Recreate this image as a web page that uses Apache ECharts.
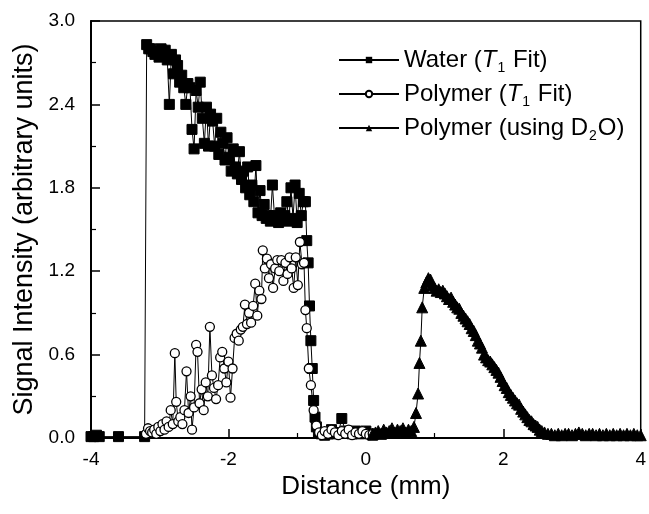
<!DOCTYPE html>
<html>
<head>
<meta charset="utf-8">
<script src="https://cdn.jsdelivr.net/npm/echarts@6/dist/echarts.min.js"></script>
<style>html,body{margin:0;padding:0;background:#fff}#c{width:649px;height:514px}</style>
</head>
<body>
<div id="c"></div>
<script>
// ---- data ----
var waterX = [-4.00,-3.96,-3.92,-3.88,-3.60,-3.22,
 -3.19,-3.16,-3.13,-3.10,-3.07,-3.04,-3.01,-2.98,-2.95,-2.92,-2.89,-2.86,-2.83,-2.80,-2.77,-2.74,-2.71,-2.68,-2.65,-2.62,
 -2.59,-2.56,-2.53,-2.50,-2.47,-2.44,-2.41,-2.38,-2.35,-2.32,-2.29,-2.26,-2.23,-2.20,-2.17,-2.14,-2.11,-2.08,-2.05,-2.02,
 -1.99,-1.96,-1.93,-1.90,-1.87,-1.84,-1.81,-1.78,-1.75,-1.72,-1.69,-1.66,-1.63,-1.60,-1.57,-1.54,-1.51,-1.48,-1.45,-1.42,
 -1.39,-1.36,-1.33,-1.30,-1.27,-1.24,-1.21,-1.18,-1.15,-1.12,-1.09,-1.06,-1.03,-1.00,-0.97,-0.94,-0.91,-0.88,-0.86,-0.84,
 -0.82,-0.80,-0.78,-0.76,-0.74,-0.72,-0.69,-0.65,-0.60,-0.55,-0.50,-0.45,-0.40,-0.35,-0.30,-0.25,-0.20,-0.15,-0.10,-0.05,0.00,0.05,0.10];
var waterY = [0.01,0.01,0.02,0.01,0.01,0.01,
 2.83,2.80,2.80,2.78,2.76,2.78,2.74,2.80,2.76,2.79,2.72,2.40,2.76,2.62,2.72,2.68,2.56,2.61,2.52,2.40,
 2.55,2.52,2.22,2.08,2.50,2.38,2.56,2.30,2.12,2.38,2.10,2.33,2.28,2.10,2.30,2.04,2.20,2.12,2.00,2.16,
 2.02,1.92,2.08,1.95,1.90,2.06,1.86,1.92,1.80,1.95,1.75,1.82,1.70,1.96,1.62,1.78,1.60,1.68,1.58,1.60,
 1.56,1.82,1.60,1.58,1.55,1.62,1.57,1.60,1.70,1.56,1.80,1.58,1.82,1.55,1.76,1.60,1.70,1.70,1.42,1.26,
 0.95,0.70,0.50,0.27,0.15,0.08,0.04,0.03,0.02,0.03,0.06,0.03,0.04,0.14,0.05,0.04,0.03,0.05,0.03,0.04,0.05,0.03,0.02];

var polyX = [-3.20,-3.17,-3.14,-3.11,-3.08,-3.05,-3.02,-2.99,-2.96,-2.93,-2.90,-2.87,-2.84,-2.81,-2.78,-2.76,-2.73,-2.70,-2.67,-2.64,
 -2.61,-2.58,-2.55,-2.53,-2.50,-2.47,-2.45,-2.42,-2.39,-2.36,-2.33,-2.30,-2.27,-2.24,-2.21,-2.18,-2.15,-2.12,-2.09,-2.06,
 -2.03,-2.00,-1.97,-1.94,-1.91,-1.88,-1.85,-1.82,-1.79,-1.76,-1.73,-1.70,-1.67,-1.64,-1.61,-1.58,-1.55,-1.52,-1.50,-1.47,
 -1.44,-1.41,-1.38,-1.35,-1.32,-1.29,-1.26,-1.23,-1.20,-1.17,-1.14,-1.11,-1.08,-1.05,-1.02,-0.99,-0.96,-0.93,-0.90,-0.88,
 -0.86,-0.83,-0.80,-0.76,-0.72,-0.68,-0.64,-0.60,-0.55,-0.50,-0.45,-0.40,-0.35,-0.30,-0.25,-0.20,-0.15,-0.10,-0.05,0.00,0.05,0.10];
var polyY = [0.03,0.07,0.05,0.04,0.06,0.03,0.08,0.05,0.10,0.06,0.12,0.08,0.20,0.10,0.61,0.26,0.12,0.15,0.10,0.20,
 0.48,0.18,0.30,0.06,0.22,0.67,0.62,0.25,0.35,0.20,0.40,0.30,0.80,0.45,0.36,0.28,0.38,0.58,0.62,0.50,
 0.40,0.55,0.29,0.50,0.72,0.75,0.70,0.78,0.80,0.96,0.82,0.90,0.83,0.95,1.11,0.88,1.06,1.00,1.35,1.22,
 1.29,1.15,1.25,1.08,1.22,1.28,1.20,1.28,1.13,1.26,1.18,1.30,1.22,1.08,1.30,1.10,1.41,1.25,1.26,0.92,
 0.79,0.50,0.38,0.20,0.09,0.04,0.02,0.05,0.03,0.06,0.04,0.02,0.05,0.03,0.06,0.02,0.04,0.03,0.05,0.03,0.02,0.03];

var d2oX = [0.10,0.14,0.18,0.22,0.26,0.30,0.34,0.38,0.42,0.46,0.50,0.54,0.58,0.62,0.66,0.70,0.73,0.76,0.78,0.80,
 0.82,0.85,0.88,0.91,0.94,0.97,1.00,1.03,1.06,1.09,1.12,1.15,1.18,1.21,1.24,1.27,1.30,1.33,1.36,1.39,
 1.42,1.45,1.48,1.51,1.54,1.57,1.60,1.63,1.66,1.69,1.72,1.75,1.78,1.81,1.84,1.87,1.90,1.93,1.96,1.99,
 2.02,2.05,2.08,2.11,2.14,2.17,2.20,2.23,2.26,2.29,2.32,2.35,2.38,2.41,2.44,2.47,2.50,2.53,2.56,2.60,
 2.65,2.70,2.75,2.80,2.85,2.90,2.95,3.00,3.05,3.10,3.15,3.20,3.25,3.30,3.35,3.40,3.45,3.50,3.55,3.60,
 3.65,3.70,3.75,3.80,3.85,3.90,3.95,4.00];
var d2oY = [0.03,0.04,0.05,0.03,0.06,0.04,0.05,0.07,0.04,0.06,0.05,0.07,0.04,0.06,0.05,0.08,0.18,0.32,0.54,0.70,
 0.94,1.08,1.12,1.15,1.14,1.10,1.08,1.06,1.07,1.05,1.06,1.04,1.02,1.00,1.01,0.98,0.96,0.94,0.93,0.90,
 0.88,0.86,0.84,0.82,0.79,0.77,0.74,0.70,0.68,0.65,0.60,0.58,0.56,0.55,0.53,0.51,0.49,0.47,0.44,0.41,
 0.38,0.36,0.33,0.31,0.29,0.27,0.25,0.24,0.21,0.19,0.17,0.15,0.13,0.12,0.10,0.09,0.08,0.06,0.05,0.04,
 0.03,0.03,0.02,0.03,0.02,0.03,0.03,0.02,0.03,0.04,0.03,0.02,0.03,0.03,0.02,0.03,0.02,0.03,0.02,0.03,
 0.02,0.03,0.02,0.03,0.02,0.03,0.02,0.02];

var xTicks = [-4, -2, 0, 2, 4];
var yTicks = [0.0, 0.6, 1.2, 1.8, 2.4, 3.0];
var seriesNames = ['Water (T1 Fit)', 'Polymer (T1 Fit)', 'Polymer (using D2O)'];

function zip(xs, ys) { return xs.map(function (x, i) { return [x, ys[i]]; }); }

var FONT = '"Liberation Sans", Arial, sans-serif';
var legendRich = {
  n: { fontSize: 24, fontFamily: FONT, color: '#000', lineHeight: 30 },
  i: { fontSize: 24, fontFamily: FONT, color: '#000', fontStyle: 'italic', lineHeight: 30 },
  s: { fontSize: 14, fontFamily: FONT, color: '#000', verticalAlign: 'bottom', lineHeight: 30, padding: [0, 1, 0, 1] }
};
var legendLabels = {};
legendLabels[seriesNames[0]] = '{n|Water (}{i|T}{s|1}{n| Fit)}';
legendLabels[seriesNames[1]] = '{n|Polymer (}{i|T}{s|1}{n| Fit)}';
legendLabels[seriesNames[2]] = '{n|Polymer (using D}{s|2}{n|O)}';

var chart = echarts.init(document.getElementById('c'), null, { renderer: 'canvas' });
chart.setOption({
  animation: false,
  backgroundColor: '#fff',
  textStyle: { fontFamily: FONT },
  grid: { left: 91, right: 3, top: 21, bottom: 76, show: true, borderColor: '#000', borderWidth: 1.5 },
  legend: {
    orient: 'vertical', left: 333, top: 43, itemGap: 7, itemWidth: 60, itemHeight: 8,
    data: seriesNames,
    formatter: function (n) { return legendLabels[n]; },
    textStyle: { rich: legendRich, fontSize: 24, color: '#000' }
  },
  xAxis: {
    type: 'value', min: xTicks[0], max: xTicks[xTicks.length - 1], interval: 2,
    name: 'Distance (mm)', nameLocation: 'middle', nameGap: 36,
    nameTextStyle: { fontSize: 26, color: '#000', fontFamily: FONT },
    axisLine: { onZero: false, lineStyle: { color: '#000', width: 2 } },
    axisTick: { inside: true, length: 9, lineStyle: { color: '#000', width: 1.5 } },
    minorTick: { show: true, splitNumber: 2, length: 5, lineStyle: { color: '#000', width: 1.2 } },
    axisLabel: { fontSize: 19, color: '#000', margin: 12, fontFamily: FONT },
    splitLine: { show: false }
  },
  yAxis: {
    type: 'value', min: yTicks[0], max: yTicks[yTicks.length - 1], interval: 0.6,
    name: 'Signal Intensity (arbitrary units)', nameLocation: 'middle', nameGap: 52,
    nameTextStyle: { fontSize: 27, color: '#000', fontFamily: FONT },
    axisLine: { onZero: false, lineStyle: { color: '#000', width: 2 } },
    axisTick: { inside: true, length: 9, lineStyle: { color: '#000', width: 1.5 } },
    minorTick: { show: true, splitNumber: 2, length: 5, lineStyle: { color: '#000', width: 1.2 } },
    axisLabel: { fontSize: 19, color: '#000', margin: 16, fontFamily: FONT,
      formatter: function (v) { return v.toFixed(1); } },
    splitLine: { show: false }
  },
  series: [
    { name: seriesNames[0], type: 'line', data: zip(waterX, waterY), symbol: 'rect', symbolSize: 10,
      lineStyle: { color: '#000', width: 1 }, itemStyle: { color: '#000', borderColor: '#000' } },
    { name: seriesNames[1], type: 'line', data: zip(polyX, polyY), symbol: 'circle', symbolSize: 9,
      lineStyle: { color: '#000', width: 1 }, itemStyle: { color: '#fff', borderColor: '#000', borderWidth: 1.3 } },
    { name: seriesNames[2], type: 'line', data: zip(d2oX, d2oY), symbol: 'triangle', symbolSize: 11,
      lineStyle: { color: '#000', width: 1 }, itemStyle: { color: '#000', borderColor: '#000' } }
  ]
});
</script>
</body>
</html>
